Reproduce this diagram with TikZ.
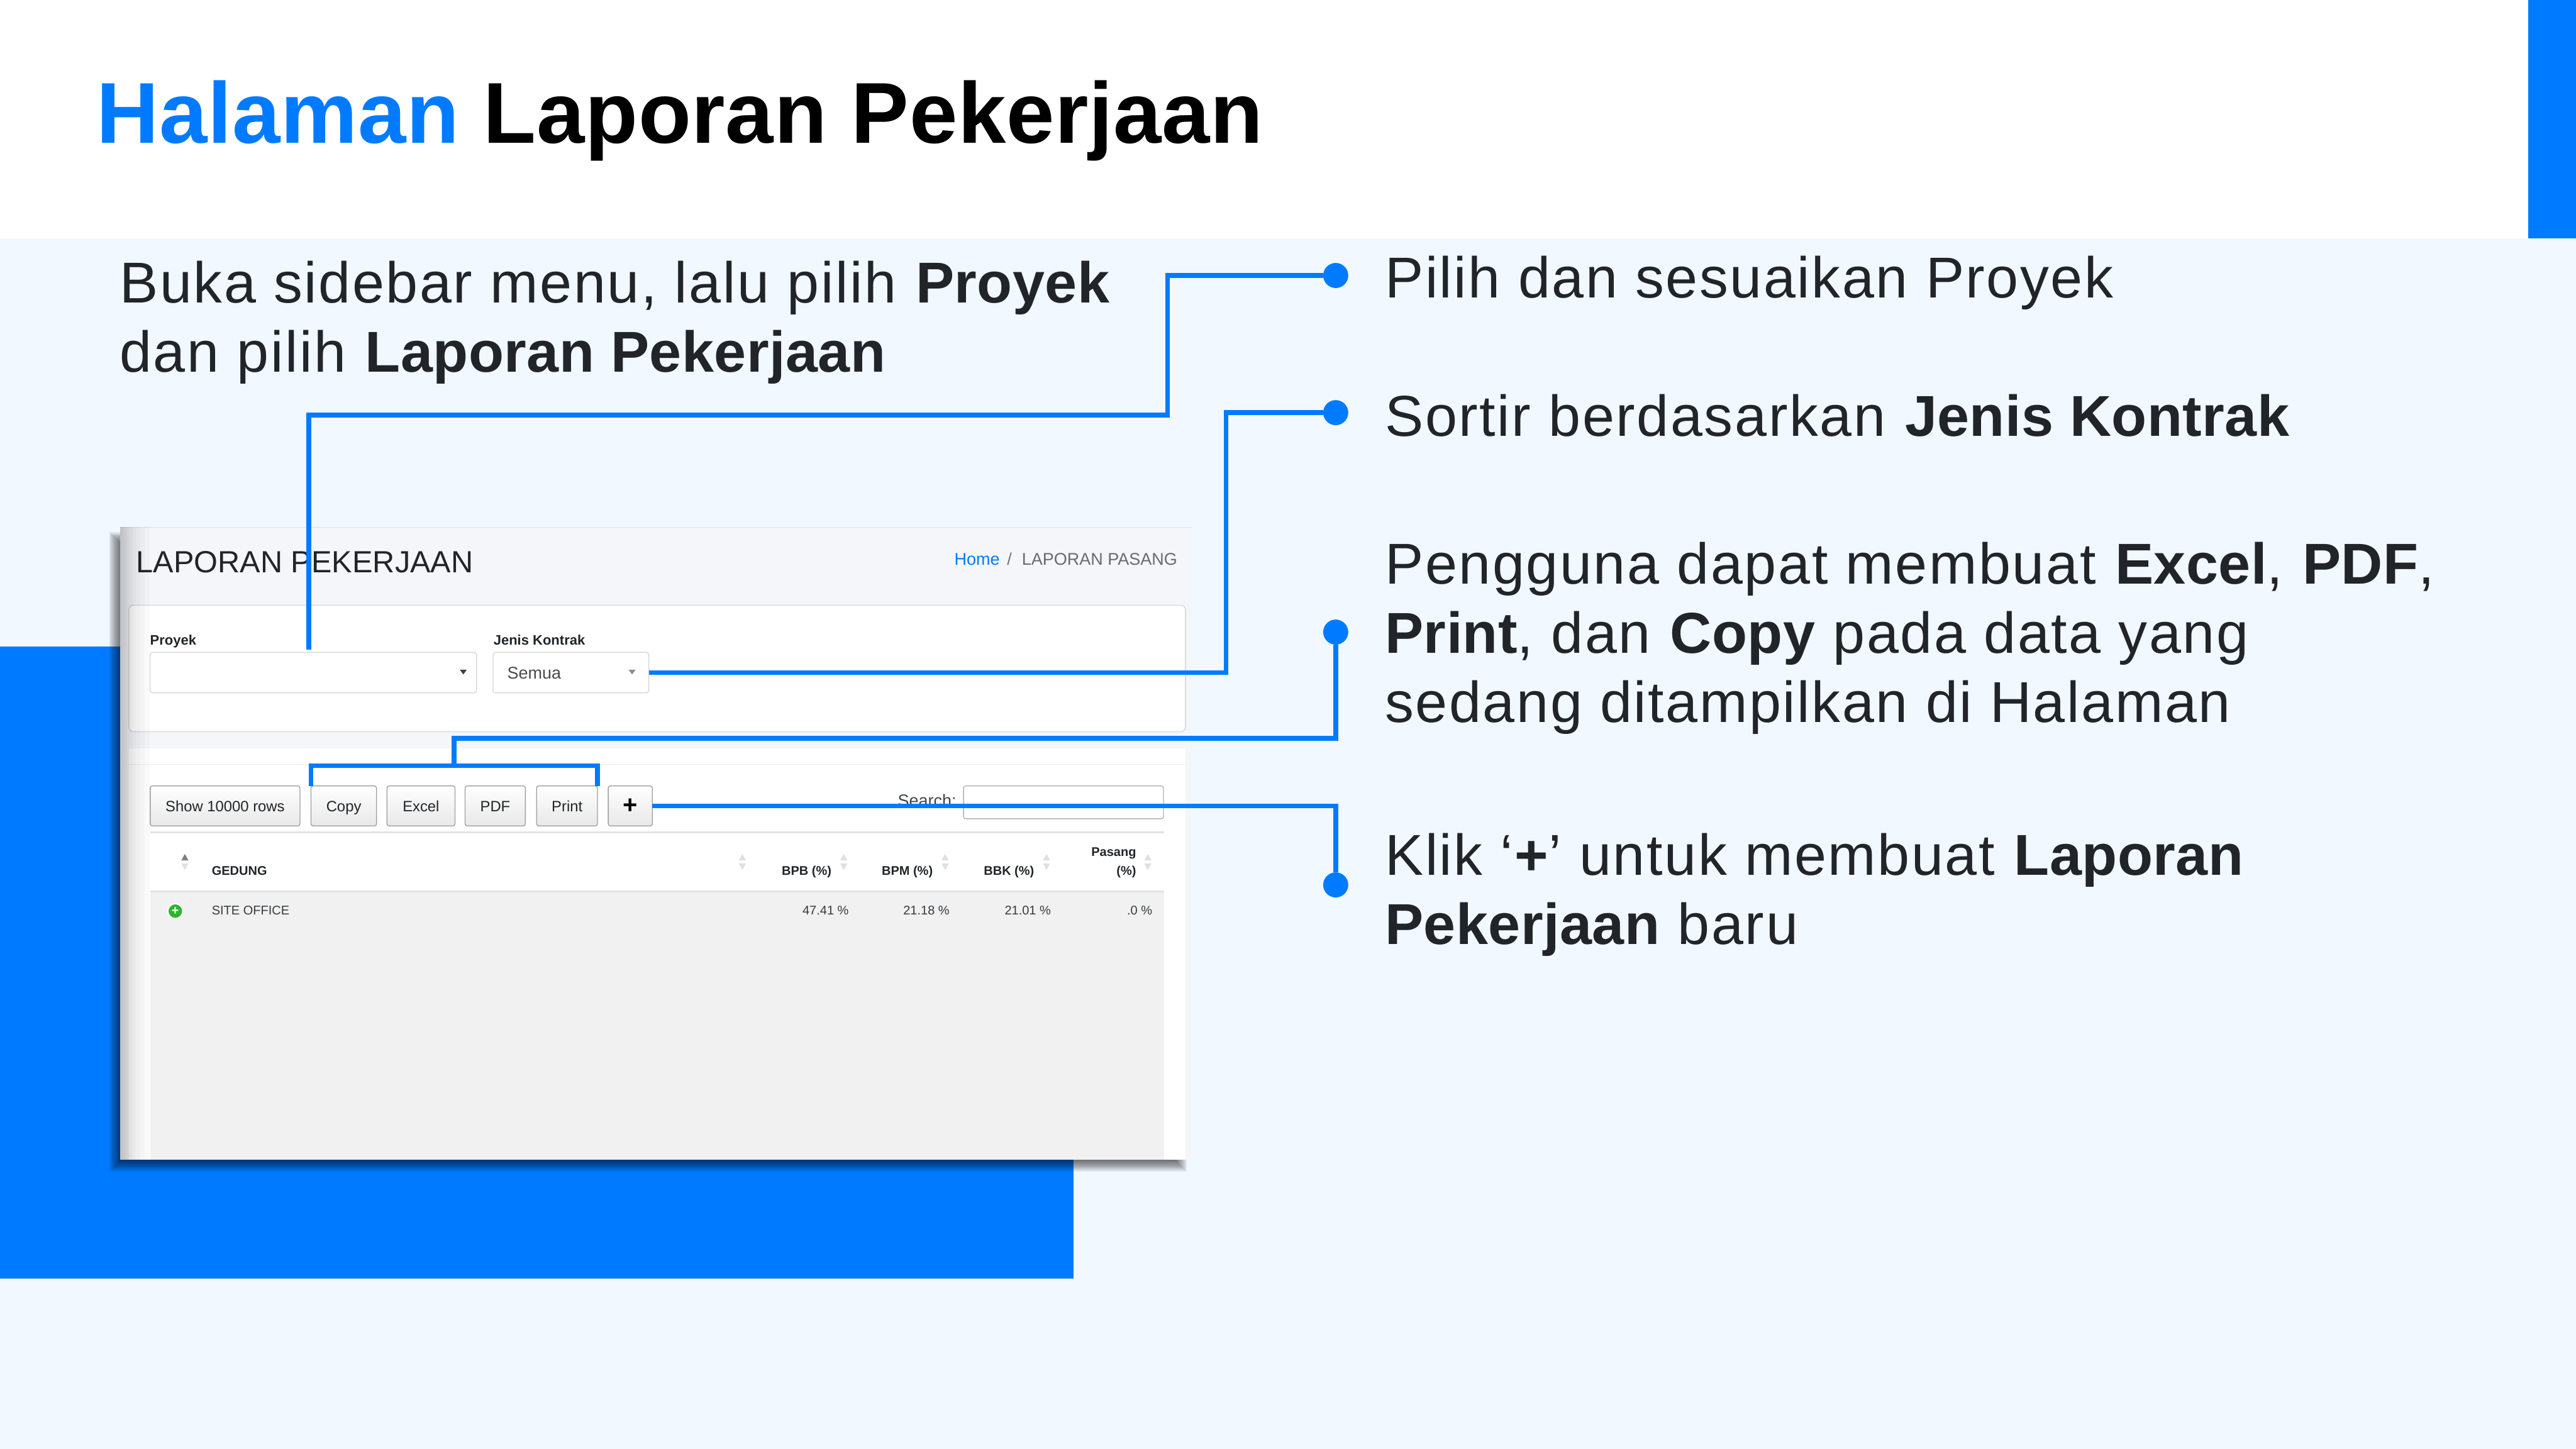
\documentclass[tikz,border=0pt]{standalone}
\usepackage{fontspec}
\setmainfont[LetterSpace=2.85,BoldFeatures={LetterSpace=0.5}]{Liberation Sans}
\newfontfamily\shotfont{Liberation Sans}
\usepackage{xcolor}
\usepackage{tikz}
\usetikzlibrary{positioning, calc}
\definecolor{brandblue}{HTML}{007BFF}
\definecolor{pagebg}{HTML}{F2F8FF}
\definecolor{inktext}{HTML}{212529}
\definecolor{shotbg}{HTML}{F4F6F9}
\definecolor{rowgrey}{HTML}{F1F1F1}
\definecolor{okgreen}{HTML}{2DB52D}

\begin{document}
\begin{tikzpicture}[
  x=0.01cm, y=-0.01cm,
  headline/.style={font=\fontsize{41.2}{48}\selectfont\bfseries, anchor=base west,
    inner sep=0pt},
  bodytext/.style={font=\fontsize{27.5}{33}\selectfont, text=inktext, align=left,
    anchor=base west, inner sep=0pt},
  leader/.style={draw=brandblue, line width=2.28pt},
  leaderdot/.style={circle, fill=brandblue, inner sep=0pt,
    outer sep=0pt, minimum size=0.42cm},
  selectbox/.style={draw=black!17, fill=white, rounded corners=1.2pt, line width=0.4pt,
    minimum height=0.68cm, inner sep=0pt, outer sep=0pt},
  shotbtn/.style={draw=black!38, rounded corners=1pt, line width=0.4pt,
    top color=white, bottom color=black!9, minimum height=0.67cm, inner sep=0pt,
    outer sep=0pt, text=inktext, text height=6.2pt, text depth=0.8pt,
    font=\shotfont\fontsize{7.15}{9}\selectfont},
  shotlabel/.style={font=\shotfont\fontsize{6.6}{8}\selectfont\bfseries,
    text=inktext, anchor=base west, inner sep=0pt},
  shotplain/.style={font=\shotfont\fontsize{8.1}{10}\selectfont,
    text=inktext!85, inner sep=0pt},
  colhead/.style={font=\shotfont\fontsize{6}{8}\selectfont\bfseries,
    text=inktext, inner sep=0pt},
  colvalue/.style={font=\shotfont\fontsize{6}{8}\selectfont,
    text=inktext!90, inner sep=0pt},
]

% ── Page background ──────────────────────────────────────
\def\pageW{4320}
\def\pageH{2430}
\def\shotB{1945}  % bottom of the screenshot
\useasboundingbox (0, 0) rectangle (\pageW, \pageH);
\fill[white] (0, 0) rectangle (\pageW, 400);
\fill[pagebg] (0, 400) rectangle (\pageW, \pageH);
\fill[brandblue] (4240, 0) rectangle (\pageW, 400);
\fill[brandblue] (0, 1084) rectangle (1800, 2144);

% ── Titles and body text ─────────────────────────────────
\node[headline] (judul) at (161, 240)
  {\textcolor{brandblue}{Halaman} Laporan Pekerjaan};
\node[bodytext] (intro) at (200, 624)
  {Buka sidebar menu, lalu pilih \textbf{Proyek}\\
   dan pilih \textbf{Laporan Pekerjaan}};
\node[bodytext] (textA) at (2322, 499) {Pilih dan sesuaikan Proyek};
\node[bodytext] (textB) at (2322, 731)
  {Sortir berdasarkan \textbf{Jenis Kontrak}};
\node[bodytext] (textC) at (2322, 1211)
  {Pengguna dapat membuat \textbf{Excel}, \textbf{PDF},\\
   \textbf{Print}, dan \textbf{Copy} pada data yang\\
   sedang ditampilkan di Halaman};
\node[bodytext] (textD) at (2322, 1584)
  {Klik ‘\textbf{+}’ untuk membuat \textbf{Laporan}\\
   \textbf{Pekerjaan} baru};

% ── Screenshot: shadow and frame ─────────────────────────
\foreach \i in {0,...,9} {
  \fill[black, opacity=0.07] (183+2*\i, 892+2*\i) rectangle (1990-2*\i, 1965-2*\i);
}
\fill[shotbg] (201, 884) rectangle (1999, \shotB);
\draw[black!12, line width=0.4pt] (201, 884) -- (1999, 884);
\fill[white, rounded corners=2.2pt] (216, 1015) rectangle (1988, 1227);
\draw[black!14, line width=0.5pt, rounded corners=2.2pt] (216, 1015) rectangle (1988, 1227);
\fill[white] (216, 1255) rectangle (1988, \shotB);
\draw[black!8, line width=0.5pt] (216, 1282) -- (1988, 1282);

% Page heading of the screenshot
\node[shotplain, text=inktext, font=\shotfont\fontsize{14.6}{16}\selectfont,
  anchor=base west] (shotjudul) at (228, 960) {LAPORAN PEKERJAAN};
\node[shotplain, text=brandblue, anchor=base west] (crumbHome) at (1600, 948) {Home};
\node[shotplain, text=black!55, anchor=base] (crumbSep) at (1693, 948) {/};
\node[shotplain, text=black!58, anchor=base west] (crumbPage) at (1713, 948)
  {LAPORAN PASANG};

% Filter fields
\node[shotlabel] (lblProyek) at (251, 1082) {Proyek};
\node[shotlabel] (lblKontrak) at (827, 1082) {Jenis Kontrak};
\node[selectbox, minimum width=5.47cm] (selProyek) at (525.5, 1128) {};
\node[selectbox, minimum width=2.61cm] (selKontrak) at (957.5, 1128) {};
\node[shotplain, text=black!70, anchor=base west] (txtSemua) at (850, 1138) {Semua};
\fill[black!75] (771, 1123) -- (783, 1123) -- (777, 1131) -- cycle;
\fill[black!45] (1054, 1123) -- (1066, 1123) -- (1060, 1131) -- cycle;

% Table buttons
\node[shotbtn, minimum width=2.51cm] (btnShow) at (377.5, 1351.5) {Show 10000 rows};
\node[shotbtn, minimum width=1.10cm] (btnCopy) at (576.5, 1351.5) {Copy};
\node[shotbtn, minimum width=1.14cm] (btnExcel) at (706, 1351.5) {Excel};
\node[shotbtn, minimum width=1.01cm] (btnPdf) at (830.5, 1351.5) {PDF};
\node[shotbtn, minimum width=1.02cm] (btnPrint) at (951, 1351.5) {Print};
\node[shotbtn, minimum width=0.74cm, text height=7pt, text depth=0pt,
  font=\shotfont\fontsize{12}{12}\selectfont\bfseries, text=black] (btnPlus)
  at (1057, 1351.5) {+};
\node[shotplain, anchor=base west] (lblSearch) at (1505, 1353) {Search:};
\node[draw=black!30, fill=white, rounded corners=1pt, line width=0.4pt,
  minimum width=3.35cm, minimum height=0.55cm, inner sep=0pt, outer sep=0pt]
  (inputSearch) at (1783.5, 1345.5) {};

% Table
\fill[rowgrey] (252, 1497) rectangle (1952, \shotB);
\draw[black!11, line width=0.9pt] (252, 1396) -- (1952, 1396);
\draw[black!11, line width=0.9pt] (252, 1495) -- (1952, 1495);
\foreach \x in {1245, 1415, 1585, 1755, 1925} {
  \fill[black!12] (\x-6, 1443) -- (\x+6, 1443) -- (\x, 1432) -- cycle;
  \fill[black!12] (\x-6, 1448) -- (\x+6, 1448) -- (\x, 1459) -- cycle;
}
\fill[black!50] (304, 1443) -- (316, 1443) -- (310, 1432) -- cycle;
\fill[black!12] (304, 1448) -- (316, 1448) -- (310, 1459) -- cycle;
\node[colhead, anchor=base west] (colGedung) at (354.5, 1468) {GEDUNG};
\node[colhead, anchor=base east] (colBpb) at (1395, 1468) {BPB (\%)};
\node[colhead, anchor=base east] (colBpm) at (1565, 1468) {BPM (\%)};
\node[colhead, anchor=base east] (colBbk) at (1735, 1468) {BBK (\%)};
\node[colhead, anchor=base east] (colPasang) at (1906, 1436) {Pasang};
\node[colhead, anchor=base east] (colPersen) at (1906, 1468) {(\%)};
\node[circle, draw=white, line width=0.6pt, fill=okgreen, text=white,
  minimum size=0.25cm, inner sep=0pt, font=\shotfont\fontsize{6}{6}\selectfont\bfseries]
  (rowToggle) at (294, 1528) {+};
\node[colvalue, anchor=base west] (valGedung) at (354.5, 1534) {SITE OFFICE};
\node[colvalue, anchor=base east] (valBpb) at (1424, 1534) {47.41 \%};
\node[colvalue, anchor=base east] (valBpm) at (1593, 1534) {21.18 \%};
\node[colvalue, anchor=base east] (valBbk) at (1763, 1534) {21.01 \%};
\node[colvalue, anchor=base east] (valPasang) at (1933, 1534) {.0 \%};

% Soft edge on the left of the screenshot
\foreach \w in {3, 6, 9, 12, 15, 19, 23, 28, 34, 42, 50} {
  \fill[black, opacity=0.018] (201, 884) rectangle (201+\w, \shotB);
}

% ── Leaders ──────────────────────────────────────────────
\node[leaderdot] (dotA) at (2240, 462) {};
\node[leaderdot] (dotB) at (2240, 692) {};
\node[leaderdot] (dotC) at (2240, 1060) {};
\node[leaderdot] (dotD) at (2240, 1484) {};

\coordinate (proyekIn) at (518, 1090);
\coordinate (bendA) at (1958, 696);
\coordinate (bendB) at (2056, 692);
\coordinate (bendC) at (761.5, 1238);
\coordinate (bracketTop) at (761.5, 1284);

\draw[leader] (proyekIn) |- (bendA) |- (dotA);
\draw[leader] (selKontrak.east) -| (bendB) -- (dotB);
\draw[leader] (dotC) |- (bendC) -- (bracketTop);
\draw[leader] (btnCopy.north west) |- (bracketTop) -| (btnPrint.north east);
\draw[leader] (btnPlus.east) -| (dotD);

\end{tikzpicture}
\end{document}
